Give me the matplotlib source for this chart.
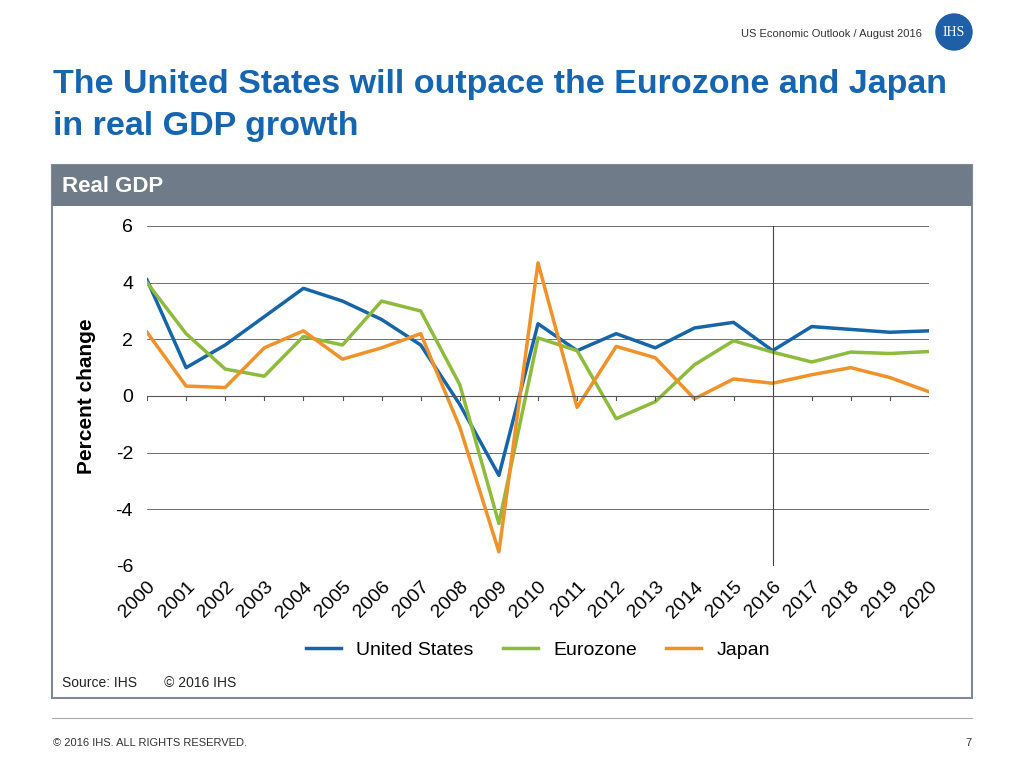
import matplotlib.pyplot as plt
from matplotlib.patches import Rectangle, Ellipse

years = list(range(2000, 2021))
us = [4.1, 1.0, 1.8, 2.8, 3.8, 3.35, 2.7, 1.8, -0.3, -2.8, 2.55, 1.6, 2.2, 1.7, 2.4, 2.6, 1.6, 2.45, 2.35, 2.25, 2.3]
euro = [4.0, 2.2, 0.95, 0.7, 2.1, 1.8, 3.35, 3.0, 0.4, -4.5, 2.05, 1.6, -0.8, -0.2, 1.1, 1.95, 1.55, 1.2, 1.55, 1.5, 1.57]
japan = [2.25, 0.35, 0.3, 1.7, 2.3, 1.3, 1.7, 2.2, -1.1, -5.5, 4.7, -0.4, 1.75, 1.35, -0.1, 0.6, 0.45, 0.75, 1.0, 0.65, 0.15]

plt.rcParams['font.family'] = ['Liberation Sans', 'DejaVu Sans']
plt.rcParams['axes.unicode_minus'] = False
W, H = 1024, 768
fig = plt.figure(figsize=(10.24, 7.68), dpi=100)

def fx(x): return x / W
def fy(y): return 1 - y / H

# header
fig.text(fx(922), fy(34), "US Economic Outlook / August 2016", ha='right', va='center', fontsize=8, color='#333333')
fig.patches.append(Ellipse((fx(954), fy(32)), 36 / W, 36 / H, transform=fig.transFigure, color='#1f5fa8', zorder=2))
fig.text(fx(954), fy(33), "IHS", ha='center', va='center', fontsize=10, color='white', family='Liberation Serif', zorder=3)
fig.text(fx(53), fy(84), "The United States will outpace the Eurozone and Japan", ha='left', va='center',
         fontsize=24.5, fontweight='bold', color='#1565b0')
fig.text(fx(53), fy(126), "in real GDP growth", ha='left', va='center', fontsize=24.5, fontweight='bold', color='#1565b0')

# panel
fig.patches.append(Rectangle((fx(52), fy(698)), 920 / W, 533 / H, transform=fig.transFigure,
                             facecolor='white', edgecolor='#7f8a96', lw=1.5, zorder=0))
fig.patches.append(Rectangle((fx(52), fy(206)), 920 / W, 41 / H, transform=fig.transFigure,
                             facecolor='#6f7b88', edgecolor='none', zorder=1))
fig.text(fx(62), fy(187), "Real GDP", ha='left', va='center', fontsize=16, fontweight='bold', color='white')
fig.text(fx(62), fy(683), "Source: IHS       \u00a9 2016 IHS", ha='left', va='center', fontsize=10, color='#222222')

# footer
fig.add_artist(plt.Line2D([fx(52), fx(972)], [fy(718), fy(718)], color='#aaaaaa', lw=0.8))
fig.text(fx(53), fy(743), "\u00a9 2016 IHS. ALL RIGHTS RESERVED.", ha='left', va='center', fontsize=8, color='#333333')
fig.text(fx(972), fy(743), "7", ha='right', va='center', fontsize=8, color='#333333')

ax = fig.add_axes([fx(147), fy(566), (929 - 147) / W, (566 - 226) / H])
ax.set_zorder(2)
ax.patch.set_alpha(0)
ax.plot(years, us, color='#1565a8', lw=2.5, label='United States')
ax.plot(years, euro, color='#8dbb3c', lw=2.5, label='Eurozone')
ax.plot(years, japan, color='#f0922a', lw=2.5, label='Japan')
ax.axvline(2016, color='#444444', lw=0.8)
ax.axhline(0, color='#555555', lw=0.8)
ax.set_xlim(2000, 2020)
ax.set_ylim(-6, 6)
ax.set_yticks(range(-6, 7, 2))
ax.set_xticks(years)
ax.set_xticklabels([str(y) for y in years], rotation=45, fontsize=14, ha='right', rotation_mode='anchor')
ax.tick_params(axis='x', length=0, pad=9)
ax.tick_params(axis='y', length=0, labelsize=14, pad=10)
for y in range(-6, 7, 2):
    ax.axhline(y, color='#555555', lw=0.6, zorder=0)
for s in ax.spines.values():
    s.set_visible(False)
for x in years:
    ax.plot([x, x], [0, -0.15], color='#555555', lw=0.8)
ax.set_ylabel("Percent change", fontsize=15, fontweight='bold', labelpad=14)
ax.legend(loc='upper center', bbox_to_anchor=(0.5, -0.17), ncol=3, frameon=False, fontsize=14,
          handlelength=1.8, columnspacing=1.5)

fig.savefig("out.png", dpi=100)
